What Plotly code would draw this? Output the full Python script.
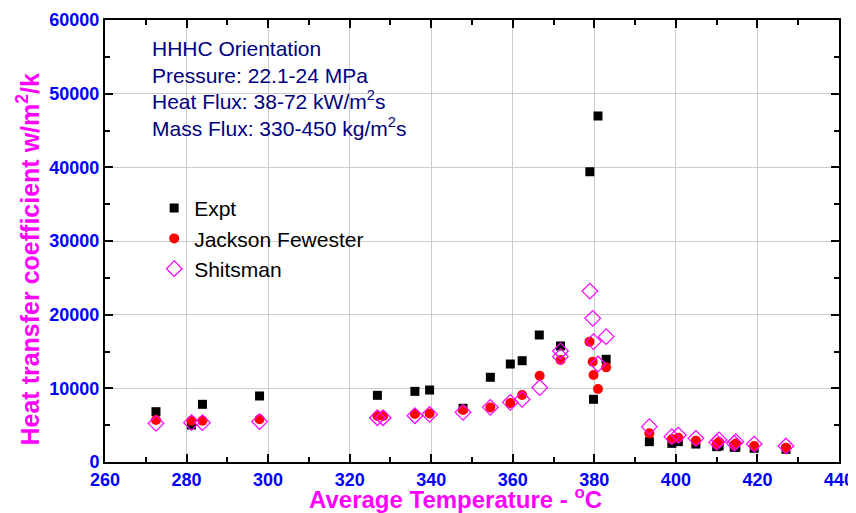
import plotly.graph_objects as go

expt_x = [272.5, 281.2, 283.9, 297.9, 326.8, 336.0, 339.6, 347.8, 354.5, 359.4, 362.3, 366.5, 371.7,
          378.9, 379.8, 380.9, 382.9, 393.5, 399.0, 400.6, 404.9, 410.0, 410.6, 414.3, 414.7, 419.2, 427.0]
expt_y = [6830, 5020, 7830, 8960, 9050, 9590, 9770, 7290, 11500, 13300, 13750, 17240, 15750,
          39400, 8510, 46970, 13940, 2760, 2530, 2760, 2440, 2080, 2170, 2000, 2000, 1860, 1720]

jf_x = [272.5, 281.2, 283.9, 297.9, 326.8, 328.2, 336.0, 339.6, 347.8, 354.5, 359.4, 362.3, 366.6, 371.7,
        378.8, 379.6, 379.8, 380.9, 382.9, 393.5, 399.0, 400.6, 404.9, 410.0, 410.6, 414.3, 414.7, 419.2, 427.0]
jf_y = [5700, 5600, 5600, 5800, 6240, 6240, 6510, 6600, 7060, 7400, 8000, 9100, 11700, 13850,
        16330, 13620, 11810, 9910, 12850, 3890, 3080, 3300, 2900, 2450, 2700, 2300, 2500, 2170, 1950]

sh_x = [272.5, 281.2, 283.9, 297.9, 326.8, 328.2, 336.0, 339.6, 347.8, 354.5, 359.4, 362.3, 366.6, 371.7, 371.7,
        378.9, 379.6, 379.8, 380.9, 382.9, 393.5, 399.0, 400.6, 404.9, 410.0, 410.6, 414.3, 414.7, 419.2, 427.0]
sh_y = [5250, 5340, 5340, 5470, 6010, 6010, 6280, 6470, 6740, 7420, 8100, 8510, 10100, 14300, 15070,
        23200, 19500, 16330, 13300, 17010, 4800, 3440, 3660, 3210, 2670, 2990, 2530, 2760, 2440, 2170]

notes = ["HHHC Orientation",
         "Pressure: 22.1-24 MPa",
         "Heat Flux: 38-72 kW/m<sup>2</sup>s",
         "Mass Flux: 330-450 kg/m<sup>2</sup>s"]
note_y = [0.9346, 0.8742, 0.8181, 0.7577]

x_title = "Average Temperature - <sup>o</sup>C"
y_title = "Heat transfer coefficient w/m<sup>2</sup>/k"

FONT = "Arial, Liberation Sans, sans-serif"

fig = go.Figure()
fig.add_trace(go.Scatter(x=expt_x, y=expt_y, mode="markers", name="Expt", legendgroup="a",
                         marker=dict(symbol="square", size=9, color="black")))
fig.add_trace(go.Scatter(x=jf_x, y=jf_y, mode="markers", name="Jackson Fewester", legendgroup="b",
                         marker=dict(symbol="circle", size=10, color="red")))
fig.add_trace(go.Scatter(x=sh_x, y=sh_y, mode="markers", name="Shitsman", legendgroup="c",
                         marker=dict(symbol="diamond-open", size=12, color="#FF00FF",
                                     line=dict(width=1.2, color="#FF00FF"))))

axis_common = dict(showline=True, linecolor="black", linewidth=2, mirror="ticks",
                   ticks="inside", ticklen=8, tickwidth=2, tickcolor="black",
                   showgrid=True, gridcolor="#cccccc", gridwidth=1, zeroline=False,
                   automargin=False,
                   tickfont=dict(family=FONT, size=18, color="#0000FF", weight="bold"))

fig.update_xaxes(range=[260, 440], dtick=20, tick0=260, tickformat="d",
                 minor=dict(dtick=10, ticks="inside", ticklen=5, tickwidth=1.5,
                            tickcolor="black", showgrid=False),
                 **axis_common)
fig.update_yaxes(range=[0, 60000], dtick=10000, tick0=0, tickformat="d",
                 minor=dict(dtick=5000, ticks="inside", ticklen=5, tickwidth=1.5,
                            tickcolor="black", showgrid=False),
                 **axis_common)

for t, yy in zip(notes, note_y):
    fig.add_annotation(x=0.061, y=yy, xref="paper", yref="paper",
                       xanchor="left", yanchor="middle", showarrow=False, text=t,
                       font=dict(family=FONT, size=21, color="#000080"))

fig.add_annotation(x=0.478, y=-0.082, xref="paper", yref="paper", xanchor="center",
                   yanchor="middle", showarrow=False, text=x_title,
                   font=dict(family=FONT, size=24, color="#FF00FF", weight="bold"))
fig.add_annotation(x=-0.105, y=0.458, xref="paper", yref="paper", xanchor="center",
                   yanchor="middle", showarrow=False, text=y_title, textangle=-90,
                   font=dict(family=FONT, size=25, color="#FF00FF", weight="bold"))

# the page body adds an 8px margin, so the figure is drawn 8px smaller
fig.update_layout(
    width=848, height=505,
    margin=dict(l=97, r=17, t=12, b=51),
    paper_bgcolor="white", plot_bgcolor="white",
    showlegend=True,
    legend=dict(x=0.067, y=0.62, xanchor="left", yanchor="top", bgcolor="rgba(0,0,0,0)",
                tracegroupgap=0, font=dict(family=FONT, size=21, color="black")),
)

fig.write_html("out.html")
